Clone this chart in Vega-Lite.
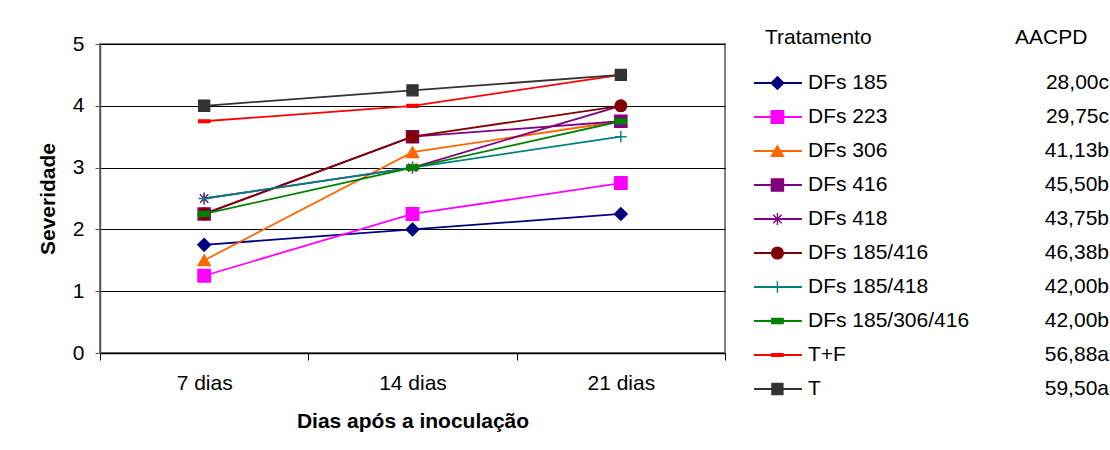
{
  "$schema": "https://vega.github.io/schema/vega-lite/v6.json",
  "padding": {"left": 36, "top": 26, "right": 2, "bottom": 5},
  "background": "white",
  "config": {"font": "Liberation Sans", "view": {"stroke": null}, "concat": {"spacing": 26}},
  "datasets": {
    "sev": [
      {"trat": "DFs 185", "dia": "7 dias", "sev": 1.75},
      {"trat": "DFs 185", "dia": "14 dias", "sev": 2.0},
      {"trat": "DFs 185", "dia": "21 dias", "sev": 2.25},
      {"trat": "DFs 223", "dia": "7 dias", "sev": 1.25},
      {"trat": "DFs 223", "dia": "14 dias", "sev": 2.25},
      {"trat": "DFs 223", "dia": "21 dias", "sev": 2.75},
      {"trat": "DFs 306", "dia": "7 dias", "sev": 1.5},
      {"trat": "DFs 306", "dia": "14 dias", "sev": 3.25},
      {"trat": "DFs 306", "dia": "21 dias", "sev": 3.75},
      {"trat": "DFs 416", "dia": "7 dias", "sev": 2.25},
      {"trat": "DFs 416", "dia": "14 dias", "sev": 3.5},
      {"trat": "DFs 416", "dia": "21 dias", "sev": 3.75},
      {"trat": "DFs 418", "dia": "7 dias", "sev": 2.5},
      {"trat": "DFs 418", "dia": "14 dias", "sev": 3.0},
      {"trat": "DFs 418", "dia": "21 dias", "sev": 4.0},
      {"trat": "DFs 185/416", "dia": "7 dias", "sev": 2.25},
      {"trat": "DFs 185/416", "dia": "14 dias", "sev": 3.5},
      {"trat": "DFs 185/416", "dia": "21 dias", "sev": 4.0},
      {"trat": "DFs 185/418", "dia": "7 dias", "sev": 2.5},
      {"trat": "DFs 185/418", "dia": "14 dias", "sev": 3.0},
      {"trat": "DFs 185/418", "dia": "21 dias", "sev": 3.5},
      {"trat": "DFs 185/306/416", "dia": "7 dias", "sev": 2.25},
      {"trat": "DFs 185/306/416", "dia": "14 dias", "sev": 3.0},
      {"trat": "DFs 185/306/416", "dia": "21 dias", "sev": 3.75},
      {"trat": "T+F", "dia": "7 dias", "sev": 3.75},
      {"trat": "T+F", "dia": "14 dias", "sev": 4.0},
      {"trat": "T+F", "dia": "21 dias", "sev": 4.5},
      {"trat": "T", "dia": "7 dias", "sev": 4.0},
      {"trat": "T", "dia": "14 dias", "sev": 4.25},
      {"trat": "T", "dia": "21 dias", "sev": 4.5}
    ],
    "leg": [
      {"trat": "DFs 185", "aacpd": "28,00c"},
      {"trat": "DFs 223", "aacpd": "29,75c"},
      {"trat": "DFs 306", "aacpd": "41,13b"},
      {"trat": "DFs 416", "aacpd": "45,50b"},
      {"trat": "DFs 418", "aacpd": "43,75b"},
      {"trat": "DFs 185/416", "aacpd": "46,38b"},
      {"trat": "DFs 185/418", "aacpd": "42,00b"},
      {"trat": "DFs 185/306/416", "aacpd": "42,00b"},
      {"trat": "T+F", "aacpd": "56,88a"},
      {"trat": "T", "aacpd": "59,50a"}
    ],
    "head": [
      {"trat": "__h", "t1": "Tratamento", "t2": "AACPD"}
    ]
  },
  "hconcat": [
    {
      "width": 625,
      "height": 309,
      "data": {"name": "sev"},
      "view": {"stroke": "#808080", "strokeWidth": 2},
      "encoding": {
        "x": {
          "field": "dia", "type": "nominal", "sort": ["7 dias", "14 dias", "21 dias"],
          "bandPosition": 0.5,
          "scale": {"type": "band", "paddingInner": 0, "paddingOuter": 0},
          "axis": {
            "title": "Dias após a inoculação", "labelAngle": 0, "tickBand": "extent",
            "domainColor": "#000", "domainWidth": 1.5, "tickColor": "#000", "tickSize": 7, "tickWidth": 1,
            "labelFontSize": 21, "labelPadding": 12, "labelColor": "#000",
            "titleFontSize": 21, "titleFontWeight": "bold", "titlePadding": 17, "titleColor": "#000",
            "grid": false
          }
        },
        "y": {
          "field": "sev", "type": "quantitative",
          "scale": {"domain": [0, 5]},
          "axis": {
            "title": "Severidade", "values": [0, 1, 2, 3, 4, 5], "format": "d",
            "grid": true, "gridColor": "#000", "gridOpacity": 1, "gridWidth": 1,
            "domainColor": "#555", "domainWidth": 1.5, "tickColor": "#555", "tickSize": 5,
            "labelFontSize": 21, "labelPadding": 11, "labelColor": "#000",
            "titleFontSize": 21, "titleFontWeight": "bold", "titlePadding": 14, "titleColor": "#000"
          }
        }
      },
      "layer": [
        {
          "mark": {"type": "line", "strokeWidth": 1.8},
          "encoding": {
            "color": {
              "field": "trat", "type": "nominal", "legend": null,
              "scale": {
                "domain": ["DFs 185", "DFs 223", "DFs 306", "DFs 416", "DFs 418", "DFs 185/416", "DFs 185/418", "DFs 185/306/416", "T+F", "T"],
                "range": ["#000080", "#FF00FF", "#FF6600", "#800080", "#800080", "#800000", "#008080", "#008000", "#FF0000", "#333333"]
              }
            }
          }
        },
        {
          "mark": {"type": "point", "filled": true, "opacity": 1, "strokeWidth": 1.4},
          "encoding": {
            "fill": {
              "field": "trat", "type": "nominal", "legend": null,
              "scale": {
                "domain": ["DFs 185", "DFs 223", "DFs 306", "DFs 416", "DFs 418", "DFs 185/416", "DFs 185/418", "DFs 185/306/416", "T+F", "T"],
                "range": ["#000080", "#FF00FF", "#FF6600", "#800080", "#800080", "#800000", "#008080", "#008000", "#FF0000", "#333333"]
              }
            },
            "stroke": {
              "field": "trat", "type": "nominal", "legend": null,
              "scale": {
                "domain": ["DFs 185", "DFs 223", "DFs 306", "DFs 416", "DFs 418", "DFs 185/416", "DFs 185/418", "DFs 185/306/416", "T+F", "T"],
                "range": ["#000080", "#FF00FF", "#FF6600", "#800080", "#800080", "#800000", "#008080", "#008000", "#FF0000", "#333333"]
              }
            },
            "shape": {
              "field": "trat", "type": "nominal", "legend": null,
              "scale": {
                "domain": ["DFs 185", "DFs 223", "DFs 306", "DFs 416", "DFs 418", "DFs 185/416", "DFs 185/418", "DFs 185/306/416", "T+F", "T"],
                "range": ["diamond", "square", "triangle-up", "square", "M0,-1L0,1M-0.7,-0.7L0.7,0.7M-0.7,0.7L0.7,-0.7", "circle", "M-1,0L1,0M0,-1L0,1", "M-1,-0.45L1,-0.45L1,0.45L-1,0.45Z", "M-1,-0.25L1,-0.25L1,0.25L-1,0.25Z", "square"]
              }
            },
            "size": {
              "field": "trat", "type": "nominal", "legend": null,
              "scale": {
                "domain": ["DFs 185", "DFs 223", "DFs 306", "DFs 416", "DFs 418", "DFs 185/416", "DFs 185/418", "DFs 185/306/416", "T+F", "T"],
                "range": [160, 120, 180, 360, 230, 140, 150, 55, 190, 120]
              }
            }
          }
        }
      ]
    },
    {
      "width": 355,
      "height": 350,
      "view": {"stroke": null},
      "encoding": {
        "y": {
          "field": "trat", "type": "nominal", "axis": null,
          "scale": {
            "type": "point", "padding": 0.147,
            "domain": ["__h", "DFs 185", "DFs 223", "DFs 306", "DFs 416", "DFs 418", "DFs 185/416", "DFs 185/418", "DFs 185/306/416", "T+F", "T"]
          }
        }
      },
      "layer": [
        {
          "data": {"name": "leg"},
          "mark": {"type": "rule", "strokeWidth": 1.8},
          "encoding": {
            "x": {"datum": 0, "type": "quantitative", "scale": {"domain": [0, 100]}, "axis": null},
            "x2": {"datum": 13.5},
            "color": {
              "field": "trat", "type": "nominal", "legend": null,
              "scale": {
                "domain": ["DFs 185", "DFs 223", "DFs 306", "DFs 416", "DFs 418", "DFs 185/416", "DFs 185/418", "DFs 185/306/416", "T+F", "T"],
                "range": ["#000080", "#FF00FF", "#FF6600", "#800080", "#800080", "#800000", "#008080", "#008000", "#FF0000", "#333333"]
              }
            }
          }
        },
        {
          "data": {"name": "leg"},
          "mark": {"type": "point", "filled": true, "opacity": 1, "strokeWidth": 1.4},
          "encoding": {
            "x": {"datum": 6.6, "type": "quantitative"},
            "fill": {
              "field": "trat", "type": "nominal", "legend": null,
              "scale": {
                "domain": ["DFs 185", "DFs 223", "DFs 306", "DFs 416", "DFs 418", "DFs 185/416", "DFs 185/418", "DFs 185/306/416", "T+F", "T"],
                "range": ["#000080", "#FF00FF", "#FF6600", "#800080", "#800080", "#800000", "#008080", "#008000", "#FF0000", "#333333"]
              }
            },
            "stroke": {
              "field": "trat", "type": "nominal", "legend": null,
              "scale": {
                "domain": ["DFs 185", "DFs 223", "DFs 306", "DFs 416", "DFs 418", "DFs 185/416", "DFs 185/418", "DFs 185/306/416", "T+F", "T"],
                "range": ["#000080", "#FF00FF", "#FF6600", "#800080", "#800080", "#800000", "#008080", "#008000", "#FF0000", "#333333"]
              }
            },
            "shape": {
              "field": "trat", "type": "nominal", "legend": null,
              "scale": {
                "domain": ["DFs 185", "DFs 223", "DFs 306", "DFs 416", "DFs 418", "DFs 185/416", "DFs 185/418", "DFs 185/306/416", "T+F", "T"],
                "range": ["diamond", "square", "triangle-up", "square", "M0,-1L0,1M-0.7,-0.7L0.7,0.7M-0.7,0.7L0.7,-0.7", "circle", "M-1,0L1,0M0,-1L0,1", "M-1,-0.45L1,-0.45L1,0.45L-1,0.45Z", "M-1,-0.25L1,-0.25L1,0.25L-1,0.25Z", "square"]
              }
            },
            "size": {
              "field": "trat", "type": "nominal", "legend": null,
              "scale": {
                "domain": ["DFs 185", "DFs 223", "DFs 306", "DFs 416", "DFs 418", "DFs 185/416", "DFs 185/418", "DFs 185/306/416", "T+F", "T"],
                "range": [130, 110, 170, 300, 200, 130, 150, 55, 190, 110]
              }
            }
          }
        },
        {
          "data": {"name": "leg"},
          "mark": {"type": "text", "align": "left", "baseline": "middle", "fontSize": 21, "color": "#000"},
          "encoding": {
            "x": {"datum": 15.2, "type": "quantitative"},
            "text": {"field": "trat"}
          }
        },
        {
          "data": {"name": "leg"},
          "mark": {"type": "text", "align": "right", "baseline": "middle", "fontSize": 21, "color": "#000"},
          "encoding": {
            "x": {"datum": 100, "type": "quantitative"},
            "text": {"field": "aacpd"}
          }
        },
        {
          "data": {"name": "head"},
          "mark": {"type": "text", "align": "left", "baseline": "middle", "fontSize": 21, "color": "#000", "yOffset": -11},
          "encoding": {
            "x": {"datum": 3.1, "type": "quantitative"},
            "text": {"field": "t1"}
          }
        },
        {
          "data": {"name": "head"},
          "mark": {"type": "text", "align": "center", "baseline": "middle", "fontSize": 21, "color": "#000", "yOffset": -11},
          "encoding": {
            "x": {"datum": 83.7, "type": "quantitative"},
            "text": {"field": "t2"}
          }
        }
      ]
    }
  ]
}
